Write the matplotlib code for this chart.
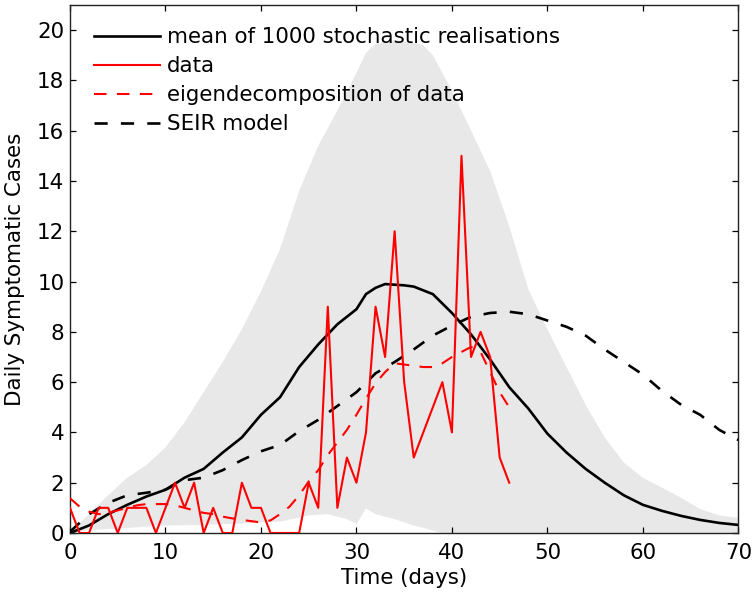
import matplotlib
matplotlib.use("Agg")
import matplotlib.pyplot as plt

# daily case data (days 0..46)
data_days = list(range(47))
data_vals = [1, 0, 0, 1, 1, 0, 1, 1, 1, 0, 1, 2, 1, 2, 0, 1, 0, 0, 2, 1,
             1, 0, 0, 0, 0, 2, 1, 9, 1, 3, 2, 4, 9, 7, 12, 6, 3, 4, 5, 6,
             4, 15, 7, 8, 7, 3, 2]

# eigendecomposition of data (days 0..46)
eig_vals = [1.38, 1.05, 0.85, 0.75, 0.8, 0.9, 1.0, 1.1, 1.15, 1.15,
            1.15, 1.1, 1.0, 0.9, 0.8, 0.75, 0.65, 0.58, 0.52, 0.47,
            0.42, 0.5, 0.75, 1.05, 1.5, 2.05, 2.5, 3.1, 3.6, 4.1,
            4.7, 5.35, 5.95, 6.4, 6.75, 6.7, 6.65, 6.6, 6.6, 6.75,
            7.0, 7.2, 7.4, 7.2, 6.4, 5.6, 5.0]

# mean of stochastic realisations
mean_days = [0, 2, 4, 6, 8, 10, 12, 14, 16, 18, 20, 22, 24, 26, 28, 30, 31, 32, 33,
             35, 36, 38, 40, 42, 44, 46, 48, 50, 52, 54, 56, 58, 60, 62, 64, 66, 68, 70]
mean_vals = [0.0, 0.3, 0.75, 1.12, 1.45, 1.72, 2.2, 2.55, 3.2, 3.8, 4.7, 5.4, 6.6,
             7.5, 8.3, 8.9, 9.5, 9.75, 9.9, 9.85, 9.8, 9.5, 8.75, 7.9, 6.9, 5.8,
             4.95, 3.95, 3.2, 2.55, 2.0, 1.5, 1.12, 0.88, 0.68, 0.52, 0.4, 0.32]

# SEIR model
seir_days = list(range(0, 71, 2))
seir_vals = [0.05, 0.75, 1.2, 1.5, 1.6, 1.72, 2.1, 2.2, 2.5, 2.9, 3.25, 3.5,
             4.05, 4.5, 5.05, 5.6, 6.35, 6.8, 7.3, 7.85, 8.25, 8.6, 8.75, 8.8,
             8.7, 8.45, 8.2, 7.85, 7.3, 6.8, 6.3, 5.65, 5.1, 4.7, 4.1, 3.7]

# envelope of the 1000 realisations
upper_days = [0, 2, 4, 6, 8, 10, 12, 14, 16, 18, 20, 22, 24, 26, 28, 30, 31, 32, 34,
              36, 37, 38, 40, 42, 44, 46, 48, 50, 52, 54, 56, 58, 60, 62, 64, 66, 68, 70]
upper_vals = [0.05, 0.75, 1.5, 2.2, 2.7, 3.4, 4.4, 5.6, 6.8, 8.1, 9.6, 11.3, 13.6,
              15.4, 16.8, 18.3, 19.1, 19.45, 19.6, 19.5, 19.4, 19.0, 17.6, 16.0, 14.4,
              12.2, 9.7, 8.1, 6.6, 5.1, 3.8, 2.8, 2.2, 1.8, 1.4, 0.95, 0.7, 0.6]
lower_days = [0, 2, 6, 10, 14, 18, 22, 25, 27, 29, 30, 31, 32, 34, 36, 38, 39, 70]
lower_vals = [0.0, 0.12, 0.2, 0.3, 0.32, 0.38, 0.45, 0.7, 0.75, 0.55, 0.35, 0.98,
              0.75, 0.55, 0.3, 0.1, 0.0, 0.0]

plt.rcParams['font.family'] = ['DejaVu Sans']
fs = 15.4

fig = plt.figure(figsize=(7.55, 5.99), dpi=100)
ax = fig.add_axes([0.0927, 0.1102, 0.8853, 0.8815])

poly_x = upper_days + lower_days[::-1]
poly_y = upper_vals + lower_vals[::-1]
ax.fill(poly_x, poly_y, color='#e8e8e8', lw=0, zorder=1)

l_mean, = ax.plot(mean_days, mean_vals, color='black', lw=1.9, zorder=3)
l_data, = ax.plot(data_days, data_vals, color='red', lw=1.5, zorder=4)
l_eig, = ax.plot(data_days, eig_vals, color='red', lw=1.5, dashes=(6, 5), zorder=4)
l_seir, = ax.plot(seir_days, seir_vals, color='black', lw=1.9, dashes=(5, 5), zorder=3)

ax.set_xlim(0, 70)
ax.set_ylim(0, 21)
ax.set_xticks(range(0, 71, 10))
ax.set_yticks(range(0, 21, 2))
ax.tick_params(direction='in', top=True, right=True, length=4.5, width=0.9,
               labelsize=fs, pad=7, colors='black')
ax.tick_params(axis='y', pad=4)
for s in ax.spines.values():
    s.set_linewidth(1.0)
    s.set_color('#222222')

ax.set_xlabel('Time (days)', fontsize=fs, labelpad=4)
ax.set_ylabel('Daily Symptomatic Cases', fontsize=fs, labelpad=9)

ax.legend([l_mean, l_data, l_eig, l_seir],
          ['mean of 1000 stochastic realisations', 'data',
           'eigendecomposition of data', 'SEIR model'],
          loc='upper left', bbox_to_anchor=(0.036, 0.958), frameon=False,
          fontsize=fs, borderpad=0, borderaxespad=0, labelspacing=0.42,
          handlelength=3.1, handletextpad=0.3)

fig.savefig('out.png', dpi=100)
